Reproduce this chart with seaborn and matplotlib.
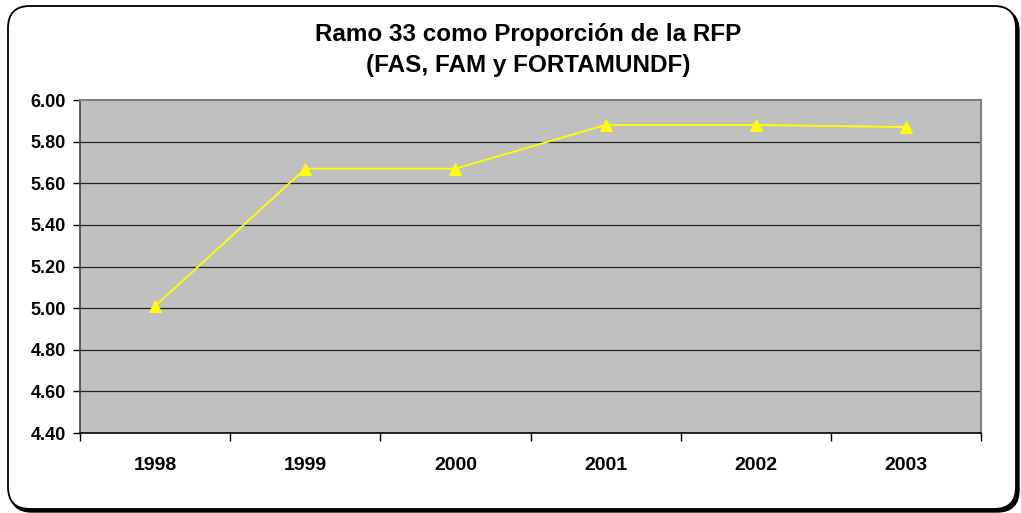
import numpy as np
import pandas as pd
import seaborn as sns
import matplotlib.pyplot as plt
from matplotlib.patches import FancyBboxPatch

# Datos
anios = ['1998', '1999', '2000', '2001', '2002', '2003']
proporcion = [5.01, 5.67, 5.67, 5.88, 5.88, 5.87]
y_ticks = [4.40, 4.60, 4.80, 5.00, 5.20, 5.40, 5.60, 5.80, 6.00]

df = pd.DataFrame({'pos': np.arange(len(anios)), 'valor': proporcion})

sns.set_style('white')
plt.rcParams['font.family'] = ['Liberation Sans', 'DejaVu Sans']
plt.rcParams['text.color'] = 'black'
plt.rcParams['xtick.color'] = 'black'
plt.rcParams['ytick.color'] = 'black'

W, H = 1021, 513
fig = plt.figure(figsize=(W / 100, H / 100), dpi=100)
ax = fig.add_axes([80 / W, 1 - 433 / H, 901 / W, 333 / H])

# marco redondeado con sombra (en pulgadas para esquinas circulares)
sombra = FancyBboxPatch((0.10, 0.01), 10.09, 5.03,
                        boxstyle='round,pad=0,rounding_size=0.22',
                        transform=fig.dpi_scale_trans, facecolor='black',
                        edgecolor='black', linewidth=1, zorder=-11)
marco = FancyBboxPatch((0.08, 0.04), 10.08, 5.03,
                       boxstyle='round,pad=0,rounding_size=0.22',
                       transform=fig.dpi_scale_trans, facecolor='white',
                       edgecolor='black', linewidth=1.3, zorder=-10)
fig.patches.append(sombra)
fig.patches.append(marco)

ax.set_facecolor('#C0C0C0')
sns.lineplot(data=df, x='pos', y='valor', ax=ax, color='#FFFF00',
             marker='^', markersize=9, markeredgecolor='#FFFF00',
             linewidth=1.3, zorder=3)

ax.set_xlim(-0.5, len(anios) - 0.5)
ax.set_ylim(4.40, 6.00)
ax.set_yticks(y_ticks)
ax.set_yticklabels([f'{v:.2f}' for v in y_ticks], fontsize=13, fontweight='bold')
for v in y_ticks[1:-1]:
    ax.axhline(v, color='#222222', linewidth=0.9, zorder=1)

# ticks en los límites de categoría, etiquetas al centro
ax.set_xticks(np.arange(-0.5, len(anios), 1.0))
ax.set_xticklabels([])
ax.set_xticks(np.arange(len(anios)), minor=True)
ax.set_xticklabels(anios, minor=True, fontsize=14, fontweight='bold')
ax.tick_params(axis='x', which='major', direction='out', length=6, width=1, color='black', bottom=True)
ax.tick_params(axis='x', which='minor', length=0, pad=17)
ax.tick_params(axis='y', direction='out', length=5, width=1, color='black', left=True, pad=5)

ax.set_xlabel('')
ax.set_ylabel('')
for lado in ['top', 'right']:
    ax.spines[lado].set_color('#808080')
    ax.spines[lado].set_linewidth(1.5)
ax.spines['left'].set_color('#404040')
ax.spines['left'].set_linewidth(1.2)
ax.spines['bottom'].set_color('black')
ax.spines['bottom'].set_linewidth(1.2)

fig.text(528 / W, 1 - 41 / H, 'Ramo 33 como Proporción de la RFP', ha='center', va='baseline',
         fontsize=17.5, fontweight='bold')
fig.text(528 / W, 1 - 72 / H, '(FAS, FAM y FORTAMUNDF)', ha='center', va='baseline',
         fontsize=17.5, fontweight='bold')

plt.savefig('out.png', dpi=100)
